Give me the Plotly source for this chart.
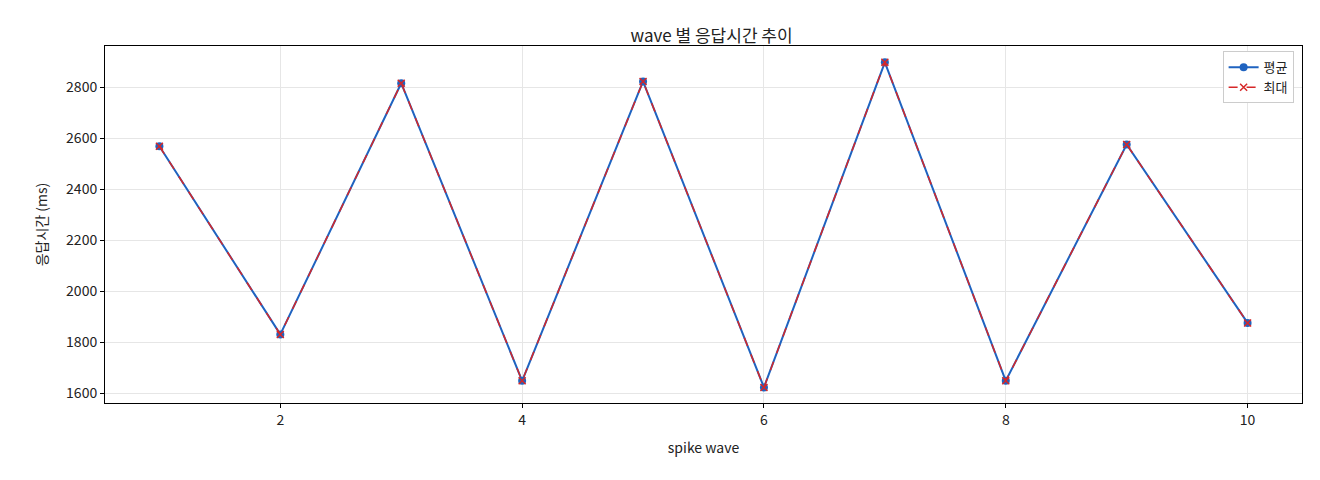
import plotly.graph_objects as go

waves = [1, 2, 3, 4, 5, 6, 7, 8, 9, 10]
avg_ms = [2568, 1830, 2815, 1648, 2822, 1622, 2897, 1648, 2575, 1875]
max_ms = [2568, 1830, 2815, 1648, 2822, 1622, 2897, 1648, 2575, 1875]

font = "Noto Sans CJK KR"

fig = go.Figure()
fig.add_trace(go.Scatter(x=waves, y=avg_ms, name="평균", mode="lines+markers",
                         line=dict(color="#1f63c0", width=2),
                         marker=dict(symbol="circle", size=8, color="#1f63c0")))
fig.add_trace(go.Scatter(x=waves, y=max_ms, name="최대", mode="lines+markers",
                         line=dict(color="#d62728", width=1.5, dash="dash"),
                         marker=dict(symbol="x-thin", size=7, color="#d62728",
                                     line=dict(color="#d62728", width=1.5))))

axis = dict(showline=True, linecolor="black", linewidth=1, mirror=True,
            showgrid=True, gridcolor="#e6e6e6", zeroline=False,
            ticks="outside", ticklen=4, tickcolor="black",
            tickfont=dict(size=14, color="#222"))

fig.update_layout(
    width=1320, height=480,
    paper_bgcolor="white", plot_bgcolor="white",
    font=dict(family=font, color="#222"),
    margin=dict(l=97, r=26, t=38, b=85),
    title=dict(text="wave 별 응답시간 추이", x=0.533, xanchor="center",
               y=0.955, font=dict(size=17)),
    xaxis=dict(axis, range=[0.55, 10.45], dtick=2,
               title=dict(text="spike wave", font=dict(size=14))),
    yaxis=dict(axis, range=[1561, 2961], dtick=200,
               title=dict(text="응답시간 (ms)", font=dict(size=14))),
    legend=dict(x=0.993, y=0.985, xanchor="right", yanchor="top",
                bordercolor="#cccccc", borderwidth=1, bgcolor="white",
                font=dict(size=13)),
    showlegend=True,
)

fig.write_html("out.html")
